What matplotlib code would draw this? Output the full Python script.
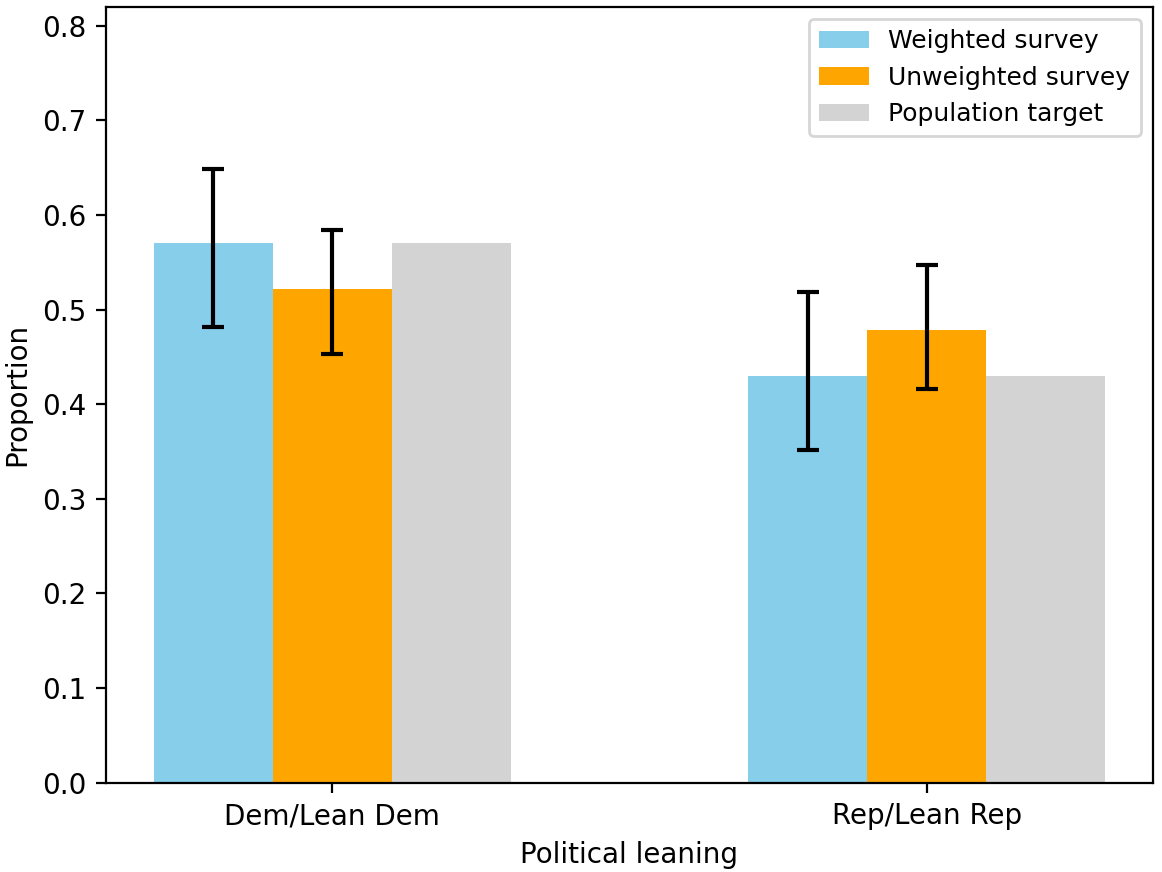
import matplotlib
matplotlib.use("Agg")
import matplotlib.pyplot as plt
import numpy as np

categories = ["Dem/Lean Dem", "Rep/Lean Rep"]
weighted = [0.570, 0.430]
weighted_low = [0.482, 0.352]
weighted_high = [0.648, 0.518]
unweighted = [0.522, 0.478]
unweighted_low = [0.453, 0.416]
unweighted_high = [0.584, 0.547]
population = [0.570, 0.430]

DPI = 200
W, H = 1162, 872
x = np.arange(len(categories))
width = 0.2

w_err = [np.array(weighted) - np.array(weighted_low),
         np.array(weighted_high) - np.array(weighted)]
u_err = [np.array(unweighted) - np.array(unweighted_low),
         np.array(unweighted_high) - np.array(unweighted)]

fig, ax = plt.subplots(figsize=(W / DPI, H / DPI), dpi=DPI)
fig.subplots_adjust(left=106 / W, right=1153 / W, top=1 - 6.7 / H, bottom=1 - 782.7 / H)

err_kw = dict(ecolor="black", elinewidth=1.5, capsize=4, capthick=1.5)
ax.bar(x - width, weighted, width, yerr=w_err, color="skyblue",
       label="Weighted survey", error_kw=err_kw)
ax.bar(x, unweighted, width, yerr=u_err, color="orange",
       label="Unweighted survey", error_kw=err_kw)
ax.bar(x + width, population, width, color="lightgray",
       label="Population target")

ax.set_xticks(x)
ax.set_xticklabels(categories)
ax.set_xlabel("Political leaning")
ax.set_ylabel("Proportion")
ax.set_ylim(0, 0.82)
ax.legend(loc="upper right", fontsize=9)

plt.savefig("out.png", dpi=DPI)
